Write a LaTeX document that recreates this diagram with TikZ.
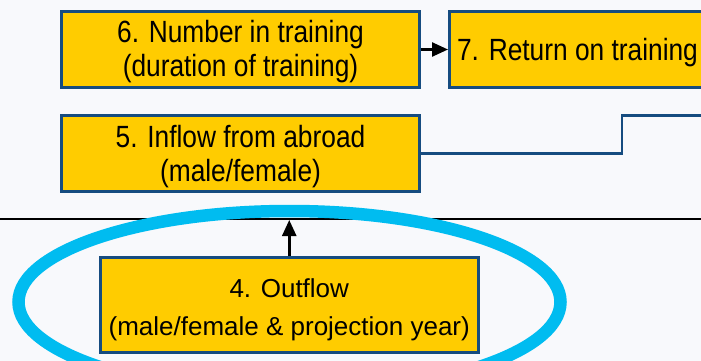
\documentclass[tikz,border=0pt]{standalone}
\usepackage{fontspec}
\setmainfont{Liberation Sans}
\newfontfamily\tallfont[FakeStretch=0.857]{Liberation Sans}
\usetikzlibrary{arrows.meta}
\definecolor{bgc}{RGB}{248,249,252}
\definecolor{boxblue}{RGB}{22,76,128}
\definecolor{boxyellow}{RGB}{255,204,0}
\definecolor{hlcyan}{RGB}{0,188,240}
\begin{document}
\begin{tikzpicture}[x=1pt,y=-1pt,
  box/.style={draw=boxblue, line width=3pt, fill=boxyellow, inner sep=0pt, align=center, text=black},
  tall/.style={font=\tallfont\fontsize{30.7}{34}\selectfont},
  plain/.style={font=\fontsize{26}{38}\selectfont},
  blackarrow/.style={draw=black, line width=2.5pt, -{Triangle[length=16pt,width=14pt]}},
  conn/.style={draw=boxblue, line width=2.5pt},
  rule/.style={draw=black, line width=2.5pt},
  highlight/.style={draw=hlcyan, line width=12.5pt}]
\useasboundingbox (0,0) rectangle (701,361);
\fill[bgc] (0,0) rectangle (701,361);
\clip (0,0) rectangle (701,361);

% separator line
\coordinate (hl-l) at (0,219);
\coordinate (hl-r) at (701,219);
\draw[rule] (hl-l) -- (hl-r);

% boxes
\node[box, tall, minimum width=358pt, minimum height=76pt, text height=56pt, text depth=1pt]
  (b6) at (240.5,49.5) {6. Number in training\\(duration of training)};
\node[box, tall, minimum width=256pt, minimum height=76pt, text height=23pt, text depth=0pt]
  (b7) at (577.5,49.5) {7. Return on training};
\node[box, tall, minimum width=358pt, minimum height=76pt, text height=57pt, text depth=0.6pt]
  (b5) at (240.5,153.5) {5. Inflow from abroad\\(male/female)};
\node[box, plain, minimum width=377.5pt, minimum height=94.5pt, text height=60.5pt, text depth=0pt]
  (b4) at (289.25,304.75) {4. Outflow\\(male/female \& projection year)};

% connectors
\draw[blackarrow] (b6.east) -- (b7.west);
\coordinate (up) at (289.25,220);
\draw[blackarrow] (b4.north) -- (up);
\coordinate (c5end) at (712,115.5);
\draw[conn] (b5.east) -- ++(201,0) |- (c5end);

% highlight ellipse
\draw[highlight] (289.5,302) ellipse [x radius=271, y radius=91];
\end{tikzpicture}
\end{document}
